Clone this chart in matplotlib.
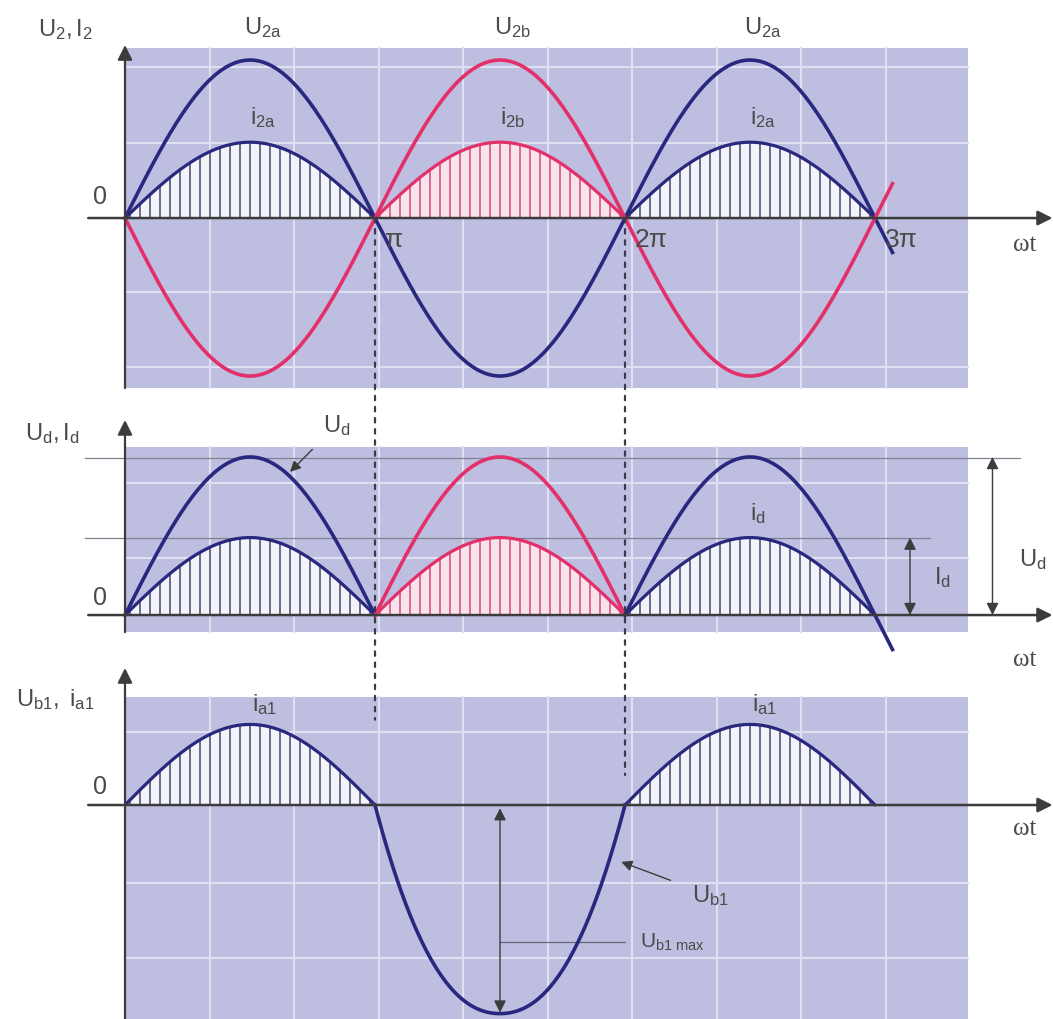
import numpy as np
import matplotlib
matplotlib.use("Agg")
import matplotlib.pyplot as plt
from matplotlib.patches import Rectangle, ConnectionPatch

plt.rcParams['font.family'] = ['Liberation Sans', 'DejaVu Sans']
plt.rcParams['mathtext.fontset'] = 'custom'
plt.rcParams['mathtext.rm'] = 'Liberation Sans'
plt.rcParams['mathtext.it'] = 'Liberation Sans'

PI = np.pi
# ---------------- data (relative amplitudes, U2 peak = 1) ----------------
U2_peak = 1.00
I2_peak = 0.48
Ud_peak = 1.00
Id_peak = 0.49
Ia1_peak = 0.51
Ub1_peak = 1.32
Ub1_shape = 3.0          # exponent of the broad part of the reverse-voltage lobe
Ub1_mix = 0.5            # share of the pure sine in that lobe
x_end = 3.07 * PI        # curves run a little past 3π
x_ticks = [PI, 2 * PI, 3 * PI]
x_tick_labels = ['π', '2π', '3π']
top_labels_U = [r'$\mathrm{U_{2a}}$', r'$\mathrm{U_{2b}}$', r'$\mathrm{U_{2a}}$']
top_labels_i = [r'$\mathrm{i_{2a}}$', r'$\mathrm{i_{2b}}$', r'$\mathrm{i_{2a}}$']
half_colors = ['blue', 'red', 'blue']
bot_labels_i = [r'$\mathrm{i_{a1}}$', r'$\mathrm{i_{a1}}$']

# ---------------- style ----------------
BG = '#bebee0'
GRID = '#e0e0f2'
NAVY = '#28287f'
RED = '#e3306b'
HATCH = {'blue': '#48486c', 'red': '#d8467a'}
FILL = {'blue': '#f3f3fa', 'red': '#f7e3ec'}
LINE = {'blue': NAVY, 'red': RED}
AX = '#3c3c3c'
TXT = '#4a4a4a'

W, H = 1053, 1019
fig = plt.figure(figsize=(W / 100, H / 100), dpi=100)
XL = (-0.5 * PI, 3.712 * PI)

def mk(top_px, bot_px, ylim):
    ax = fig.add_axes([0, 1 - bot_px / H, 1, (bot_px - top_px) / H])
    ax.set_xlim(*XL)
    ax.set_ylim(*ylim)
    ax.axis('off')
    return ax

ax1 = mk(0, 395, (-1.120, 1.380))
ax2 = mk(395, 665, (-0.316, 1.392))
ax3 = mk(665, 1019, (-1.354, 0.886))

bg_right = 3.372 * PI
vgrid = [k * 0.338 * PI for k in range(1, 10)]

def panel(ax, y0, y1, hgrid):
    ax.add_patch(Rectangle((0, y0), bg_right, y1 - y0, facecolor=BG,
                           edgecolor='none', zorder=0))
    for gx in vgrid:
        ax.plot([gx, gx], [y0, y1], color=GRID, lw=1.5, zorder=0.5)
    for gy in hgrid:
        ax.plot([0, bg_right], [gy, gy], color=GRID, lw=1.5, zorder=0.5)

panel(ax1, -1.076, 1.076, [0.955, 0.475, -0.468, -0.943])
panel(ax2, -0.108, 1.063, [0.835, 0.36])
panel(ax3, -1.6, 0.684, [0.462, -0.494, -0.968])

step = PI / 25

def hatched(ax, a, b, peak, col):
    t = np.linspace(a, b, 200)
    y = peak * np.abs(np.sin(t))
    ax.fill_between(t, 0, y, color=FILL[col], lw=0, zorder=1)
    xs = np.arange(a + step / 2, b, step)
    ax.vlines(xs, 0, peak * np.abs(np.sin(xs)), color=HATCH[col], lw=1.1, zorder=1.5)
    ax.plot(t, y, color=LINE[col], lw=2.3, zorder=3, solid_capstyle='round')

def axes_arrows(ax, ybot, ytop):
    ax.annotate('', xy=(3.71 * PI, 0), xytext=(-0.147 * PI, 0),
                arrowprops=dict(arrowstyle='-|>', color=AX, lw=1.8, mutation_scale=22,
                                shrinkA=0, shrinkB=0), zorder=4, annotation_clip=False)
    ax.annotate('', xy=(0, ytop), xytext=(0, ybot),
                arrowprops=dict(arrowstyle='-|>', color=AX, lw=1.6, mutation_scale=22,
                                shrinkA=0, shrinkB=0), zorder=4, annotation_clip=False)

# ---------------- top panel ----------------
t = np.linspace(0, x_end, 900)
for k in range(3):
    hatched(ax1, k * PI, (k + 1) * PI, I2_peak, half_colors[k])
ax1.plot(t, U2_peak * np.sin(t), color=NAVY, lw=2.6, zorder=3)
ax1.plot(t, -U2_peak * np.sin(t), color=RED, lw=2.6, zorder=3)
axes_arrows(ax1, -1.076, 1.095)
for k in range(3):
    ax1.text((k + 0.55) * PI, 1.205, top_labels_U[k], fontsize=17, color=TXT,
             ha='center', va='center')
    ax1.text((k + 0.55) * PI, 0.635, top_labels_i[k], fontsize=17, color=TXT,
             ha='center', va='center')
for xv, lab in zip(x_ticks, x_tick_labels):
    ax1.text(xv + 0.04 * PI, -0.14, lab, fontsize=19, color=TXT, ha='left', va='center')
ax1.text(-0.1 * PI, 0.13, '0', fontsize=18, color=TXT, ha='center', va='center')
ax1.text(-0.24 * PI, 1.19, r'$\mathrm{U_{2},I_{2}}$', fontsize=17, color=TXT,
         ha='center', va='center')
ax1.text(3.6 * PI, -0.17, 'ωt', fontsize=18, color=TXT, ha='center', va='center',
         family='Liberation Serif')

# ---------------- middle panel ----------------
ax2.plot([-0.16 * PI, 3.58 * PI], [Ud_peak * 0.994, Ud_peak * 0.994], color='#808090', lw=0.9, zorder=1)
ax2.plot([-0.16 * PI, 3.22 * PI], [Id_peak, Id_peak], color='#808090', lw=0.9, zorder=1)
for k in range(3):
    hatched(ax2, k * PI, (k + 1) * PI, Id_peak, half_colors[k])
    b = (k + 1) * PI if k < 2 else x_end
    tt = np.linspace(k * PI, b, 300)
    ax2.plot(tt, (-1) ** k * Ud_peak * np.sin(tt), color=LINE[half_colors[k]], lw=2.6, zorder=3)
axes_arrows(ax2, -0.108, 1.234)
ax2.text(-0.1 * PI, 0.11, '0', fontsize=18, color=TXT, ha='center', va='center')
ax2.text(-0.29 * PI, 1.15, r'$\mathrm{U_{d},I_{d}}$', fontsize=17, color=TXT,
         ha='center', va='center')
ax2.text(3.6 * PI, -0.285, 'ωt', fontsize=18, color=TXT, ha='center', va='center',
         family='Liberation Serif')
ax2.annotate(r'$\mathrm{U_{d}}$', xy=(0.66 * PI, 0.905), xytext=(0.845 * PI, 1.2),
             fontsize=17, color=TXT, ha='center', va='center',
             arrowprops=dict(arrowstyle='-|>', color=AX, lw=1.0, mutation_scale=16,
                             shrinkA=9, shrinkB=0))
ax2.text(2.53 * PI, 0.64, r'$\mathrm{i_{d}}$', fontsize=17, color=TXT, ha='center', va='center')
# I_d and U_d dimension arrows
ax2.annotate('', xy=(3.14 * PI, Id_peak), xytext=(3.14 * PI, 0),
             arrowprops=dict(arrowstyle='<|-|>', color=AX, lw=1.0, mutation_scale=18,
                             shrinkA=0, shrinkB=0), zorder=4)
ax2.annotate('', xy=(3.47 * PI, Ud_peak), xytext=(3.47 * PI, 0),
             arrowprops=dict(arrowstyle='<|-|>', color=AX, lw=1.0, mutation_scale=18,
                             shrinkA=0, shrinkB=0), zorder=4)
ax2.text(3.27 * PI, 0.235, r'$\mathrm{I_{d}}$', fontsize=17, color=TXT, ha='center', va='center')
ax2.text(3.63 * PI, 0.35, r'$\mathrm{U_{d}}$', fontsize=17, color=TXT, ha='center', va='center')

# ---------------- bottom panel ----------------
hatched(ax3, 0, PI, Ia1_peak, 'blue')
hatched(ax3, 2 * PI, 3 * PI, Ia1_peak, 'blue')
tn = np.linspace(PI, 2 * PI, 400)
s = 1 - np.abs(tn - 1.5 * PI) / (0.5 * PI)
lobe = Ub1_mix * np.abs(np.sin(tn)) + (1 - Ub1_mix) * (1 - (1 - s) ** Ub1_shape)
ax3.plot(tn, -Ub1_peak * lobe, color=NAVY, lw=2.6, zorder=3)
axes_arrows(ax3, -1.6, 0.867)
ax3.text(-0.1 * PI, 0.115, '0', fontsize=18, color=TXT, ha='center', va='center')
ax3.text(-0.28 * PI, 0.665, r'$\mathrm{U_{b1},\ i_{a1}}$', fontsize=17, color=TXT,
         ha='center', va='center')
ax3.text(3.6 * PI, -0.15, 'ωt', fontsize=18, color=TXT, ha='center', va='center',
         family='Liberation Serif')
for k, lab in zip([0, 2], bot_labels_i):
    ax3.text((k + 0.56) * PI, 0.635, lab, fontsize=17, color=TXT, ha='center', va='center')
ax3.annotate('', xy=(1.5 * PI, -Ub1_peak * 0.995), xytext=(1.5 * PI, -0.02),
             arrowprops=dict(arrowstyle='<|-|>', color=AX, lw=1.0, mutation_scale=18,
                             shrinkA=0, shrinkB=0), zorder=4)
ax3.plot([1.5 * PI, 2.0 * PI], [-0.867, -0.867], color='#666678', lw=0.9, zorder=2)
ax3.text(2.06 * PI, -0.867, r'$\mathrm{U_{b1\ max}}$', fontsize=15, color=TXT,
         ha='left', va='center')
ax3.annotate(r'$\mathrm{U_{b1}}$', xy=(1.985 * PI, -0.36), xytext=(2.34 * PI, -0.57),
             fontsize=17, color=TXT, ha='center', va='center',
             arrowprops=dict(arrowstyle='-|>', color=AX, lw=1.0, mutation_scale=16,
                             shrinkA=14, shrinkB=0))

# ---------------- dotted projection lines ----------------
for xv, yb in [(PI, 0.54), (2 * PI, 0.19)]:
    con = ConnectionPatch(xyA=(xv, 0), coordsA=ax1.transData,
                          xyB=(xv, yb), coordsB=ax3.transData,
                          linestyle=(0, (2, 3)), color='#3a3a4a', lw=1.6, zorder=5)
    fig.add_artist(con)

fig.savefig('out.png', dpi=100, facecolor='white')
